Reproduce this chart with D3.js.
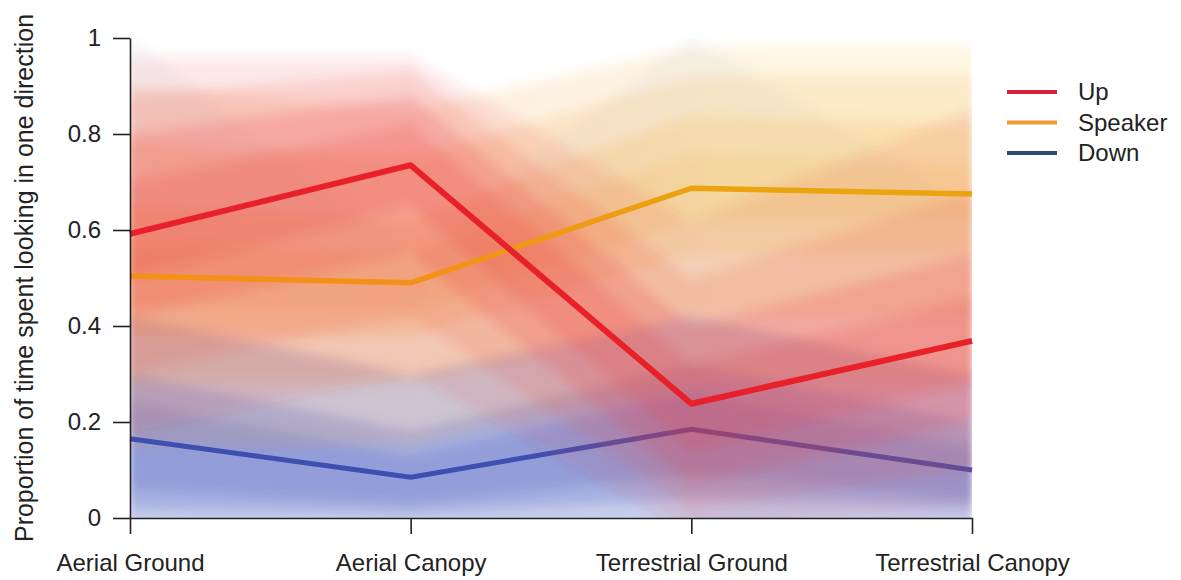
<!DOCTYPE html>
<html>
<head>
<meta charset="utf-8">
<script src="https://cdn.jsdelivr.net/npm/d3@7"></script>
<style>
  html, body { margin: 0; padding: 0; background: #fff; }
  svg { display: block; font-family: "Liberation Sans", Arial, Helvetica, sans-serif; }
</style>
</head>
<body>
<svg id="chart" width="1181" height="580"></svg>
<script>
// Habitat treatments along the x axis
const categories = ["Aerial Ground", "Aerial Canopy", "Terrestrial Ground", "Terrestrial Canopy"];
const yTicks = [0, 0.2, 0.4, 0.6, 0.8, 1];
const seriesNames = ["Up", "Speaker", "Down"];

// Posterior mean proportion of time spent looking in each direction
const upMean      = [0.592, 0.735, 0.238, 0.369];
const speakerMean = [0.504, 0.490, 0.687, 0.675];
const downMean    = [0.165, 0.085, 0.185, 0.100];

// Spread of the posterior draws: nested intervals (outer to inner), [lower, upper] per category
const upLo      = [[0.18, 0.30, 0.00, 0.02], [0.30, 0.42, 0.02, 0.10], [0.42, 0.55, 0.07, 0.20], [0.50, 0.65, 0.14, 0.28]];
const upHi      = [[0.96, 0.96, 0.62, 0.85], [0.88, 0.93, 0.50, 0.68], [0.80, 0.88, 0.40, 0.55], [0.70, 0.82, 0.32, 0.46]];
const speakerLo = [[0.15, 0.15, 0.28, 0.28], [0.28, 0.28, 0.42, 0.42], [0.38, 0.38, 0.55, 0.55], [0.44, 0.43, 0.62, 0.62]];
const speakerHi = [[0.90, 0.85, 0.98, 0.98], [0.78, 0.75, 0.92, 0.92], [0.65, 0.62, 0.84, 0.82], [0.57, 0.55, 0.76, 0.74]];
const downLo    = [[0.00, 0.00, 0.00, 0.00], [0.00, 0.00, 0.00, 0.00], [0.02, 0.01, 0.04, 0.02], [0.06, 0.03, 0.09, 0.04]];
const downHi    = [[1.00, 0.55, 1.00, 0.65], [0.42, 0.30, 0.42, 0.30], [0.30, 0.18, 0.32, 0.20], [0.24, 0.13, 0.26, 0.15]];

const svg = d3.select("#chart");
const margin = { left: 130, right: 209, top: 38, bottom: 62 };
const W = +svg.attr("width"), H = +svg.attr("height");

const x = d3.scalePoint().domain(categories).range([margin.left, W - margin.right]);
const y = d3.scaleLinear().domain([0, 1]).range([H - margin.bottom, margin.top]);

const defs = svg.append("defs");
// speaker cloud/line shift from orange to golden across the panel
function hGrad(id, c0, c1) {
  const g = defs.append("linearGradient").attr("id", id)
    .attr("gradientUnits", "userSpaceOnUse")
    .attr("x1", x(categories[0])).attr("x2", x(categories[3])).attr("y1", 0).attr("y2", 0);
  g.append("stop").attr("offset", "0%").attr("stop-color", c0);
  g.append("stop").attr("offset", "35%").attr("stop-color", c0);
  g.append("stop").attr("offset", "70%").attr("stop-color", c1);
  g.append("stop").attr("offset", "100%").attr("stop-color", c1);
}
hGrad("spkFill", "#f08a2a", "#f3b23a");
hGrad("spkLine", "#f39018", "#eaa40f");

// soft edges for the clouds of draws, kept inside the panel
const px0 = x(categories[0]), px1 = x(categories[3]), py0 = y(1), py1 = y(0);
defs.append("filter").attr("id", "soft")
  .attr("x", "-10%").attr("y", "-10%").attr("width", "120%").attr("height", "120%")
  .append("feGaussianBlur").attr("stdDeviation", "3 6");
defs.append("clipPath").attr("id", "panel")
  .append("rect").attr("x", px0).attr("y", py0)
  .attr("width", px1 - px0).attr("height", py1 - py0);

// bands resting on zero bleed under the axis so the blur does not thin them out there
const bleed = 14;
const area = d3.area()
  .x((d, i) => x(categories[i]))
  .y0(d => d[0] <= 0 ? y(0) + bleed : y(d[0]))
  .y1(d => y(d[1]));

function drawBands(lo, hi, fill, opac) {
  const g = svg.append("g").attr("clip-path", "url(#panel)")
    .append("g").attr("filter", "url(#soft)");
  lo.forEach((l, k) => {
    const pts = l.map((v, i) => [v, hi[k][i]]);
    g.append("path").attr("d", area(pts))
      .attr("fill", fill).attr("fill-opacity", opac[k]);
  });
}

const line = d3.line().x((d, i) => x(categories[i])).y(d => y(d));
function drawMean(vals, stroke, width) {
  svg.append("path").attr("d", line(vals))
    .attr("fill", "none").attr("stroke", stroke)
    .attr("stroke-width", width).attr("stroke-linejoin", "round");
}

drawBands(downLo, downHi, "#4a5cc0", [0.05, 0.27, 0.26, 0.22]);
drawBands(speakerLo, speakerHi, "url(#spkFill)", [0.14, 0.16, 0.16, 0.14]);
drawMean(downMean, "#3f4fb0", 5);
drawBands(upLo, upHi, "#e83a38", [0.11, 0.15, 0.19, 0.18]);
drawMean(speakerMean, "url(#spkLine)", 5.5);
drawMean(upMean, "#e8202a", 6);

// Axes
const fontSize = 24;
const yAxis = d3.axisLeft(y).tickValues(yTicks).tickFormat(d => String(+d.toFixed(1)))
  .tickSize(17).tickSizeOuter(0).tickPadding(12);
const gy = svg.append("g").attr("transform", `translate(${margin.left},0)`).call(yAxis);
const xAxis = d3.axisBottom(x).tickSize(16).tickSizeOuter(0).tickPadding(20);
const gx = svg.append("g").attr("transform", `translate(0,${H - margin.bottom})`).call(xAxis);
[gy, gx].forEach(g => {
  g.selectAll("path.domain").attr("stroke", "#222").attr("stroke-width", 1.6);
  g.selectAll(".tick line").attr("stroke", "#222").attr("stroke-width", 1.6);
  g.selectAll(".tick text").attr("fill", "#222").style("font-size", fontSize + "px")
    .style("font-family", '"Liberation Sans", Arial, sans-serif');
});

svg.append("text")
  .attr("transform", `translate(33,${(y(0) + y(1)) / 2}) rotate(-90)`)
  .attr("text-anchor", "middle").attr("fill", "#222")
  .style("font-size", "25px")
  .text("Proportion of time spent looking in one direction");

// Legend
const legendColors = ["#d8203a", "#f09a30", "#2d4a72"];
const lg = svg.append("g").attr("transform", "translate(1007,92)");
seriesNames.forEach((name, i) => {
  const row = lg.append("g").attr("transform", `translate(0,${i * 30.5})`);
  row.append("line").attr("x1", 0).attr("x2", 50).attr("y1", 0).attr("y2", 0)
    .attr("stroke", legendColors[i]).attr("stroke-width", 4);
  row.append("text").attr("x", 71).attr("dy", "0.35em").attr("fill", "#222")
    .style("font-size", "24px").text(name);
});
</script>
</body>
</html>
